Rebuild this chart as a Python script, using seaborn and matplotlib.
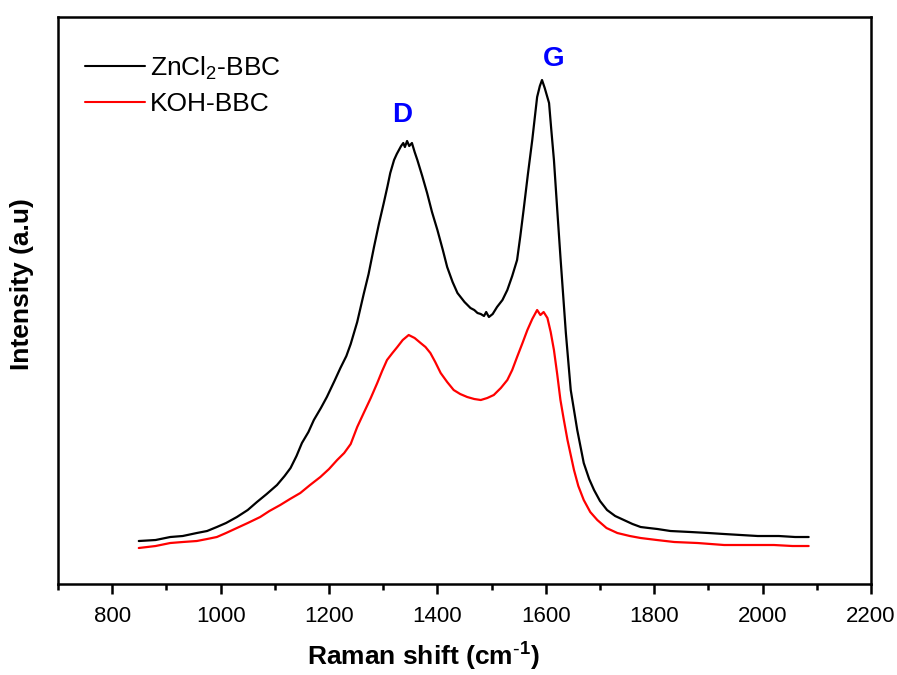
import numpy as np
import pandas as pd
import matplotlib
matplotlib.use("Agg")
import matplotlib.pyplot as plt
import seaborn as sns

# Raman shift (cm^-1) and intensity (a.u.)
zn_shift = [849, 880, 907, 930, 956, 975, 993, 1010, 1030, 1050, 1067, 1085, 1104, 1118,
            1129, 1140, 1150, 1162, 1172, 1185, 1196, 1210, 1221, 1232, 1240, 1252, 1264,
            1273, 1283, 1292, 1301, 1308, 1313, 1320, 1325, 1329, 1333, 1337, 1340, 1344,
            1348, 1353, 1358, 1363, 1372, 1381, 1390, 1400, 1410, 1418, 1428, 1437, 1450,
            1461, 1468, 1474, 1480, 1486, 1490, 1495, 1502, 1510, 1520, 1529, 1538, 1547,
            1553, 1559, 1567, 1575, 1580, 1584, 1589, 1593, 1598, 1606, 1610, 1615, 1621,
            1627, 1637, 1646, 1658, 1670, 1680, 1689, 1700, 1713, 1728, 1744, 1760, 1775,
            1790, 1806, 1830, 1867, 1900, 1929, 1960, 1991, 2030, 2060, 2085]
zn_int = [43, 44, 47, 48, 51, 53, 57, 61, 67, 74, 82, 90, 99, 108,
          116, 128, 141, 152, 164, 176, 187, 203, 216, 228, 240, 262, 290,
          310, 337, 360, 381, 398, 411, 424, 430, 434, 438, 441, 437, 443,
          438, 441, 432, 424, 408, 391, 372, 354, 334, 317, 302, 291, 282,
          276, 274, 271, 270, 268, 272, 267, 270, 277, 284, 294, 308, 324,
          348, 374, 410, 444, 468, 487, 498, 504, 496, 481, 455, 424, 375,
          327, 251, 194, 154, 121, 105, 94, 83, 74, 68, 64, 60, 57,
          56, 55, 53, 52, 51, 50, 49, 48, 48, 47, 47]

koh_shift = [849, 880, 907, 930, 956, 975, 993, 1010, 1030, 1050, 1073, 1090, 1110, 1128,
             1147, 1165, 1184, 1200, 1215, 1228, 1240, 1252, 1264, 1277, 1289, 1298, 1307,
             1317, 1326, 1336, 1347, 1358, 1369, 1378, 1387, 1396, 1406, 1418, 1430, 1442,
             1455, 1468, 1480, 1492, 1504, 1517, 1529, 1538, 1547, 1557, 1566, 1575, 1580,
             1584, 1590, 1596, 1603, 1609, 1615, 1621, 1627, 1633, 1640, 1646, 1652, 1660,
             1670, 1682, 1695, 1712, 1732, 1755, 1775, 1805, 1837, 1880, 1929, 1975, 2021,
             2055, 2085]
koh_int = [36, 38, 41, 42, 43, 45, 47, 51, 56, 61, 67, 73, 79, 85,
           91, 99, 107, 115, 124, 131, 140, 157, 171, 186, 201, 213, 224,
           231, 237, 244, 249, 246, 241, 237, 231, 222, 211, 202, 194, 190,
           187, 185, 184, 186, 189, 196, 204, 214, 227, 241, 254, 265, 270,
           274, 269, 272, 266, 252, 234, 210, 184, 165, 144, 129, 114, 98,
           84, 72, 64, 56, 51, 48, 46, 44, 42, 41, 39, 39, 39,
           38, 38]

labels = ["ZnCl$_2$-BBC", "KOH-BBC"]
colors = ["black", "red"]
x_ticks = [800, 1000, 1200, 1400, 1600, 1800, 2000, 2200]
x_minor = [700, 900, 1100, 1300, 1500, 1700, 1900, 2100]

df = pd.concat([
    pd.DataFrame({"shift": zn_shift, "intensity": zn_int, "sample": labels[0]}),
    pd.DataFrame({"shift": koh_shift, "intensity": koh_int, "sample": labels[1]}),
], ignore_index=True)

sns.set_theme(style="ticks")
plt.rcParams["font.family"] = ["Liberation Sans", "DejaVu Sans"]
plt.rcParams["mathtext.default"] = "regular"
plt.rcParams["text.color"] = "black"
plt.rcParams["axes.labelcolor"] = "black"
plt.rcParams["xtick.color"] = "black"

fig = plt.figure(figsize=(8.97, 6.75), dpi=100)
ax = fig.add_axes([0.0647, 0.1348, 0.9063, 0.84])

sns.lineplot(data=df, x="shift", y="intensity", hue="sample", palette=colors,
             estimator=None, sort=False, linewidth=1.6, ax=ax)

ax.set_xlim(700, 2200)
ax.set_ylim(0, 567)
ax.set_xticks(x_ticks)
ax.set_xticks(x_minor, minor=True)
ax.set_yticks([])
ax.tick_params(axis="x", which="major", direction="out", length=7, width=1.8,
               labelsize=16, colors="black", pad=9)
ax.tick_params(axis="x", which="minor", direction="out", length=4, width=1.8)
for s in ax.spines.values():
    s.set_linewidth(1.8)
    s.set_color("black")
    s.set_visible(True)

ax.set_xlabel("Raman shift (cm$^{\\text{-}1}$)", fontsize=19, fontweight="bold")
ax.set_ylabel("Intensity (a.u)", fontsize=19, fontweight="bold")
ax.xaxis.set_label_coords(0.4496, -0.100)
ax.yaxis.set_label_coords(-0.0295, 0.529)

ax.text(1335, 469, "D", color="#0000ff", fontsize=20, fontweight="bold", ha="center", va="center")
ax.text(1615, 525, "G", color="#0000ff", fontsize=20, fontweight="bold", ha="center", va="center")

leg = ax.legend(loc="upper left", frameon=False, fontsize=19, handlelength=2.27,
                handletextpad=0.2, labelspacing=0.4, borderpad=0, borderaxespad=0,
                bbox_to_anchor=(0.033, 0.934))
for line in leg.get_lines():
    line.set_linewidth(1.5)

fig.savefig("out.png", dpi=100)
